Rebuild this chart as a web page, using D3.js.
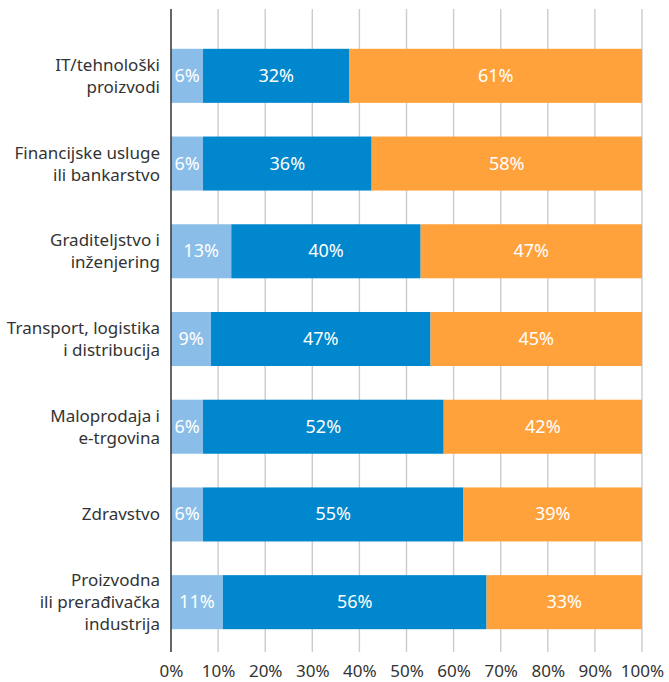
<!DOCTYPE html>
<html>
<head>
<meta charset="utf-8">
<script src="https://cdn.jsdelivr.net/npm/d3@7"></script>
<style>
    body { margin: 0; background: #fff; }
    text { font-family: "Noto Sans", sans-serif; }
</style>
</head>
<body>
<script>
(function(){

    //categories, one array of lines per bar
    var categories = [
        ["IT/tehnološki", "proizvodi"],
        ["Financijske usluge", "ili bankarstvo"],
        ["Graditeljstvo i", "inženjering"],
        ["Transport, logistika", "i distribucija"],
        ["Maloprodaja i", "e-trgovina"],
        ["Zdravstvo"],
        ["Proizvodna", "ili prerađivačka", "industrija"]
    ];

    //segment shares (percent of each bar)
    var lightValues = [6.8, 6.8, 12.8, 8.5, 6.8, 6.8, 11.0];
    var blueValues = [31.1, 35.8, 40.2, 46.6, 51.1, 55.3, 56.0];
    var orangeValues = [62.1, 57.4, 47.0, 44.9, 42.1, 37.9, 33.0];

    //labels as printed in the bars
    var lightLabels = ["6%", "6%", "13%", "9%", "6%", "6%", "11%"];
    var blueLabels = ["32%", "36%", "40%", "47%", "52%", "55%", "56%"];
    var orangeLabels = ["61%", "58%", "47%", "45%", "42%", "39%", "33%"];

    //x axis ticks
    var tickValues = [0, 10, 20, 30, 40, 50, 60, 70, 80, 90, 100];

    var seriesKeys = ["light", "blue", "orange"];
    var colors = { light: "#8abee8", blue: "#0087cd", orange: "#ffa23b" };
    var labels = { light: lightLabels, blue: blueLabels, orange: orangeLabels };

    window.onload = setChart();

    function setChart() {
        var width = 669,
            height = 682;

        var svg = d3.select("body")
            .append("svg")
            .attr("width", width)
            .attr("height", height);

        //build the table for d3.stack
        var table = categories.map(function(c, i) {
            return { index: i, light: lightValues[i], blue: blueValues[i], orange: orangeValues[i] };
        });

        var stacked = d3.stack()
            .keys(seriesKeys)
            .offset(d3.stackOffsetExpand)(table);

        var xScale = d3.scaleLinear()
            .domain([0, 1])
            .range([171, 642]);

        var yScale = d3.scaleBand()
            .domain(d3.range(categories.length))
            .range([26, 652])
            .paddingInner(0.384)
            .paddingOuter(0.26);

        //vertical gridlines
        svg.append("g")
            .selectAll("line")
            .data(tickValues.slice(1))
            .enter()
            .append("line")
            .attr("x1", function(d) { return xScale(d / 100); })
            .attr("x2", function(d) { return xScale(d / 100); })
            .attr("y1", 9)
            .attr("y2", 652)
            .style("stroke", "#cccccc")
            .style("stroke-width", "1.4px");

        //bars
        var groups = svg.selectAll(".series")
            .data(stacked)
            .enter()
            .append("g")
            .attr("class", "series")
            .attr("fill", function(d) { return colors[d.key]; });

        groups.selectAll("rect")
            .data(function(d) { return d; })
            .enter()
            .append("rect")
            .attr("x", function(d) { return xScale(d[0]); })
            .attr("width", function(d) { return xScale(d[1]) - xScale(d[0]); })
            .attr("y", function(d) { return yScale(d.data.index); })
            .attr("height", yScale.bandwidth());

        //value labels in the middle of each segment
        groups.selectAll(".value")
            .data(function(s) {
                return s.map(function(d) { return { key: s.key, d: d }; });
            })
            .enter()
            .append("text")
            .attr("class", "value")
            .attr("x", function(o) { return xScale((o.d[0] + o.d[1]) / 2); })
            .attr("y", function(o) { return yScale(o.d.data.index) + yScale.bandwidth() / 2 + 6; })
            .attr("text-anchor", "middle")
            .style("font-size", "18px")
            .style("fill", "#ffffff")
            .text(function(o) { return labels[o.key][o.d.data.index]; });

        //category labels, right aligned
        var cats = svg.append("g")
            .selectAll("text")
            .data(categories)
            .enter()
            .append("text")
            .attr("text-anchor", "end")
            .style("font-size", "17px")
            .style("fill", "#333333");

        cats.each(function(lines, i) {
            var cy = yScale(i) + yScale.bandwidth() / 2;
            d3.select(this).selectAll("tspan")
                .data(lines)
                .enter()
                .append("tspan")
                .attr("x", 160)
                .attr("y", function(l, j) { return cy + (j - (lines.length - 1) / 2) * 22 + 6; })
                .text(function(l) { return l; });
        });

        //x axis at the bottom
        var xAxis = d3.axisBottom(xScale)
            .tickValues(tickValues.map(function(t) { return t / 100; }))
            .tickFormat(function(d) { return Math.round(d * 100) + "%"; })
            .tickSize(0)
            .tickPadding(0);

        var axis = svg.append("g")
            .attr("class", "xaxis")
            .attr("transform", "translate(0,677)")
            .call(xAxis);

        axis.select(".domain").remove();
        axis.selectAll("text")
            .attr("dy", 0)
            .style("font-family", "\"Noto Sans\", sans-serif")
            .style("font-size", "17px")
            .style("fill", "#333333");

        //left axis line
        svg.append("line")
            .attr("x1", xScale(0))
            .attr("x2", xScale(0))
            .attr("y1", 9)
            .attr("y2", 652)
            .style("stroke", "#333333")
            .style("stroke-width", "1.5px");
    };
})();
</script>
</body>
</html>
